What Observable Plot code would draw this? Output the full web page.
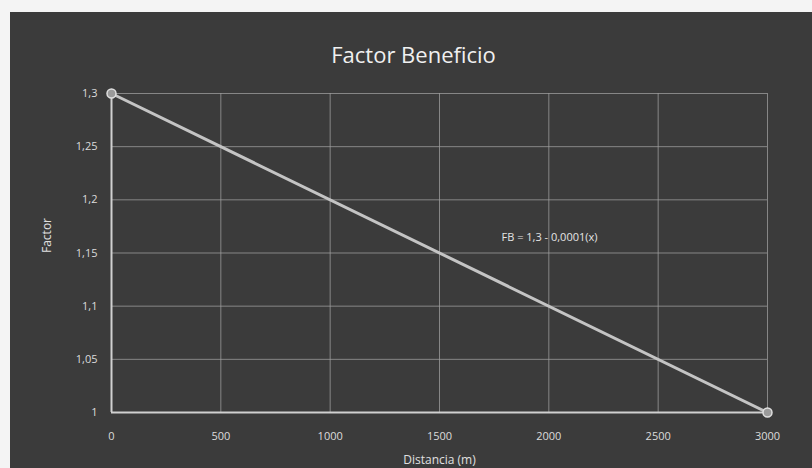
<!DOCTYPE html>
<html>
<head>
<meta charset="utf-8">
<script src="https://cdn.jsdelivr.net/npm/d3@7"></script>
<script src="https://cdn.jsdelivr.net/npm/@observablehq/plot@0.6"></script>
<style>
  html, body { margin: 0; padding: 0; background: #f4f4f4; width: 812px; height: 468px; overflow: hidden; }
  #panel { position: absolute; left: 10px; top: 12px; width: 802px; height: 456px; background: #3b3b3b; }
  #chart { position: absolute; left: 0; top: 0; }
</style>
</head>
<body>
<div id="panel"></div>
<div id="chart"></div>
<script>
const distancia = [0, 3000];
const factor = [1.3, 1.0];
const xTicks = [0, 500, 1000, 1500, 2000, 2500, 3000];
const yTicks = [1, 1.05, 1.1, 1.15, 1.2, 1.25, 1.3];
const titleText = "Factor Beneficio";
const xLabel = "Distancia (m)";
const yLabel = "Factor";
const equation = "FB = 1,3 - 0,0001(x)";

const data = distancia.map((d, i) => ({x: d, y: factor[i]}));
const fmtY = d => String(+d.toFixed(2)).replace(".", ",");

const plot = Plot.plot({
  width: 812,
  height: 468,
  marginTop: 93,
  marginBottom: 56,
  marginLeft: 111,
  marginRight: 45,
  style: {background: "transparent", fontFamily: "Open Sans, sans-serif", color: "#d8d8d8"},
  x: {domain: [0, 3000], ticks: xTicks, tickSize: 0, tickPadding: 20, label: null, tickFormat: d => String(d)},
  y: {domain: [1, 1.3], ticks: yTicks, tickSize: 0, tickPadding: 14, label: null, tickFormat: fmtY},
  marks: [
    Plot.gridX(xTicks, {stroke: "#a0a0a0", strokeOpacity: 0.75, strokeWidth: 1}),
    Plot.gridY(yTicks, {stroke: "#a0a0a0", strokeOpacity: 0.75, strokeWidth: 1}),
    Plot.ruleX([0], {stroke: "#d0d0d0", strokeWidth: 2}),
    Plot.ruleY([1], {stroke: "#d0d0d0", strokeWidth: 2}),
    Plot.axisX({ticks: xTicks, tickSize: 0, tickPadding: 20, fontSize: 11, fill: "#dcdcdc", label: null, tickFormat: d => String(d)}),
    Plot.axisY({ticks: yTicks, tickSize: 0, tickPadding: 14, fontSize: 11, fill: "#dcdcdc", label: null, tickFormat: fmtY}),
    Plot.line(data, {x: "x", y: "y", stroke: "#c4c4c4", strokeWidth: 3}),
    Plot.dot(data, {x: "x", y: "y", r: 4.5, fill: "#9a9a9a", stroke: "#e0e0e0", strokeWidth: 1.5}),
    Plot.text([equation], {x: 2003, y: 1.165, text: d => d, fontSize: 11, fill: "#e4e4e4", textAnchor: "middle"}),
    Plot.text([titleText], {frameAnchor: "top", dx: -26, dy: -46, fontSize: 22, fill: "#f0f0f0", text: d => d}),
    Plot.text([xLabel], {frameAnchor: "bottom", dy: 51, fontSize: 12, fill: "#e0e0e0", text: d => d}),
    Plot.text([yLabel], {frameAnchor: "left", dx: -64, rotate: -90, fontSize: 12, fill: "#e0e0e0", text: d => d})
  ]
});
document.getElementById("chart").appendChild(plot);
</script>
</body>
</html>
